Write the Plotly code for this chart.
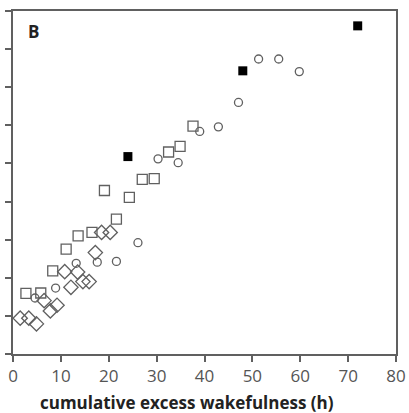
import plotly.graph_objects as go

# open squares
sq_x = [2.7, 5.8, 8.3, 11.1, 13.6, 16.5, 21.6, 19.1, 24.3, 27.0, 29.5, 32.5, 34.9, 37.6]
sq_y = [1.59, 1.60, 2.18, 2.75, 3.10, 3.19, 3.54, 4.29, 4.11, 4.58, 4.60, 5.30, 5.45, 5.98]
# open circles
ci_x = [4.6, 8.9, 13.2, 17.6, 21.6, 26.1, 30.3, 34.5, 39.0, 42.9, 47.1, 51.3, 55.5, 59.8]
ci_y = [1.47, 1.73, 2.38, 2.41, 2.43, 2.92, 5.12, 5.02, 5.84, 5.96, 6.60, 7.74, 7.74, 7.41]
# open diamonds
di_x = [1.5, 3.3, 4.9, 6.5, 7.8, 9.2, 10.8, 12.1, 13.5, 14.6, 15.9, 17.2, 18.5, 20.3]
di_y = [0.94, 0.94, 0.79, 1.40, 1.13, 1.28, 2.16, 1.75, 2.15, 1.90, 1.90, 2.66, 3.19, 3.19]
# filled squares
fs_x = [24, 48, 72]
fs_y = [5.18, 7.43, 8.61]

x_ticks = [0, 10, 20, 30, 40, 50, 60, 70, 80]
y_ticks = [0, 1, 2, 3, 4, 5, 6, 7, 8, 9]
x_title = "cumulative excess wakefulness (h)"

edge = "#606060"
fig = go.Figure()
fig.add_trace(go.Scatter(x=di_x, y=di_y, mode="markers",
                         marker=dict(symbol="diamond-open", size=11, color=edge, line=dict(width=1.3))))
fig.add_trace(go.Scatter(x=ci_x, y=ci_y, mode="markers",
                         marker=dict(symbol="circle-open", size=8, color=edge, line=dict(width=1.3))))
fig.add_trace(go.Scatter(x=sq_x, y=sq_y, mode="markers",
                         marker=dict(symbol="square-open", size=10, color=edge, line=dict(width=1.3))))
fig.add_trace(go.Scatter(x=fs_x, y=fs_y, mode="markers",
                         marker=dict(symbol="square", size=9, color="black")))

fig.update_layout(
    width=409, height=413,
    margin=dict(l=13, r=13, t=11, b=59),
    plot_bgcolor="white", paper_bgcolor="white",
    showlegend=False,
    font=dict(family="Open Sans", color="#555555"),
)
fig.update_xaxes(range=[0, 80], tickvals=x_ticks, ticks="outside", ticklen=6, tickwidth=1.5,
                 tickcolor=edge, showline=True, linecolor=edge, linewidth=2, mirror=True,
                 showgrid=False, zeroline=False, automargin=False,
                 tickfont=dict(size=17, color="#555555"))
fig.update_yaxes(range=[0, 9], tickvals=y_ticks, ticks="outside", ticklen=6, tickwidth=1.5,
                 tickcolor=edge, showline=True, linecolor=edge, linewidth=2, mirror=True,
                 showgrid=False, zeroline=False, showticklabels=False, automargin=False)
fig.add_annotation(text=x_title, xref="paper", yref="paper", x=0.454, y=-0.142,
                   xanchor="center", yanchor="middle", showarrow=False,
                   font=dict(size=17, color="#222222", family="Open Sans", weight=700))
fig.add_annotation(text="<b>B</b>", xref="paper", yref="paper", x=0.035, y=0.94,
                   xanchor="left", yanchor="middle", showarrow=False,
                   font=dict(size=17, color="#222222", family="Open Sans"))
fig.write_html("out.html")
